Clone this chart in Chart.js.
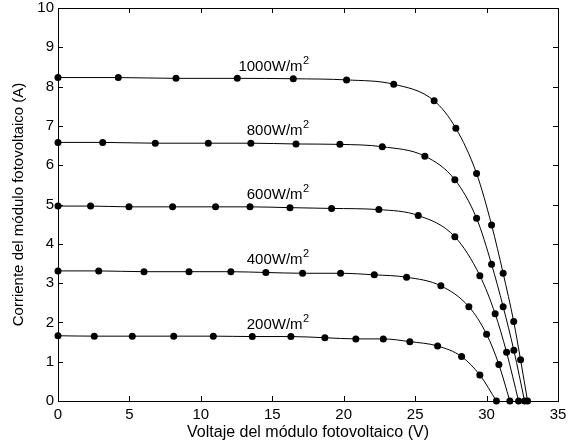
<!DOCTYPE html>
<html>
<head>
<meta charset="utf-8">
<script src="https://cdn.jsdelivr.net/npm/chart.js@4/dist/chart.umd.min.js"></script>
<style>
  html, body { margin: 0; padding: 0; background: #fff; }
  #wrap { width: 575px; height: 446px; }
</style>
</head>
<body>
<div id="wrap"><canvas id="chart" width="575" height="446"></canvas></div>
<script>
// irradiance levels and I-V points (V, A)
const irradiances = ['1000', '800', '600', '400', '200'];

const v1000 = [0, 4.22, 8.26, 12.55, 16.47, 20.2, 23.5, 26.33, 27.85, 29.3, 30.35, 31.16, 31.9, 32.38, 32.87];
const i1000 = [8.23, 8.23, 8.21, 8.21, 8.20, 8.17, 8.06, 7.64, 6.94, 5.79, 4.48, 3.25, 2.02, 1.05, 0];

const v800 = [0, 3.13, 6.81, 10.52, 13.5, 16.66, 19.73, 22.7, 25.68, 27.78, 29.3, 30.35, 31.16, 31.91, 32.66];
const i800 = [6.58, 6.58, 6.56, 6.56, 6.56, 6.54, 6.53, 6.47, 6.23, 5.63, 4.65, 3.48, 2.40, 1.29, 0];

const v600 = [0, 2.28, 4.97, 8.02, 11.03, 13.44, 16.24, 19.15, 22.46, 25.22, 27.78, 29.53, 30.6, 31.4, 32.24];
const i600 = [4.96, 4.96, 4.94, 4.94, 4.94, 4.94, 4.92, 4.90, 4.87, 4.72, 4.18, 3.19, 2.22, 1.24, 0];

const v400 = [0, 2.85, 6.02, 9.17, 12.1, 14.55, 17.12, 19.78, 22.14, 24.4, 26.8, 28.76, 30.0, 30.86, 31.63];
const i400 = [3.31, 3.31, 3.29, 3.29, 3.29, 3.27, 3.25, 3.25, 3.21, 3.15, 2.93, 2.40, 1.70, 0.93, 0];

const v200 = [0, 2.54, 5.2, 8.1, 10.87, 13.6, 16.3, 18.68, 20.85, 22.77, 24.63, 26.57, 28.25, 29.53, 30.69];
const i200 = [1.66, 1.65, 1.65, 1.65, 1.65, 1.64, 1.64, 1.61, 1.58, 1.58, 1.51, 1.40, 1.13, 0.66, 0];

const xTicks = [0, 5, 10, 15, 20, 25, 30, 35];
const yTicks = [0, 1, 2, 3, 4, 5, 6, 7, 8, 9, 10];

const voltages = [v1000, v800, v600, v400, v200];
const currents = [i1000, i800, i600, i400, i200];

const FONT = "'Liberation Sans', Arial, sans-serif";
Chart.defaults.font.family = FONT;
Chart.defaults.font.size = 15;
Chart.defaults.color = '#000';

// MATLAB-like box with ticks pointing inwards + curve labels
const boxPlugin = {
    id: 'boxPlugin',
    afterDraw(chart) {
        const ctx = chart.ctx;
        const a = chart.chartArea;
        const xs = chart.scales.x, ys = chart.scales.y;
        ctx.save();
        ctx.strokeStyle = '#000';
        ctx.lineWidth = 1;
        ctx.strokeRect(Math.round(a.left) + 0.5, Math.round(a.top) + 0.5,
            Math.round(a.right - a.left), Math.round(a.bottom - a.top));
        ctx.beginPath();
        const len = 5;
        xTicks.forEach(v => {
            const px = Math.round(xs.getPixelForValue(v)) + 0.5;
            ctx.moveTo(px, a.bottom); ctx.lineTo(px, a.bottom - len);
            ctx.moveTo(px, a.top); ctx.lineTo(px, a.top + len);
        });
        yTicks.forEach(v => {
            const py = Math.round(ys.getPixelForValue(v)) + 0.5;
            ctx.moveTo(a.left, py); ctx.lineTo(a.left + len, py);
            ctx.moveTo(a.right, py); ctx.lineTo(a.right - len, py);
        });
        ctx.stroke();

        // labels, right edge near V = 17.55, just above each plateau
        ctx.fillStyle = '#000';
        ctx.textBaseline = 'alphabetic';
        ctx.textAlign = 'left';
        const xr = xs.getPixelForValue(17.55);
        irradiances.forEach((g, k) => {
            const main = g + 'W/m';
            ctx.font = '15px ' + FONT;
            const w1 = ctx.measureText(main).width;
            ctx.font = '11px ' + FONT;
            const w2 = ctx.measureText('2').width;
            const base = ys.getPixelForValue(currents[k][0]) - 7;
            ctx.font = '15px ' + FONT;
            ctx.fillText(main, xr - w2 - w1, base);
            ctx.font = '11px ' + FONT;
            ctx.fillText('2', xr - w2 + 0.5, base - 7);
        });
        ctx.restore();
    }
};

const datasets = irradiances.map((g, k) => ({
    label: g + 'W/m2',
    data: voltages[k].map((v, j) => ({ x: v, y: currents[k][j] })),
    showLine: true,
    borderColor: '#000',
    borderWidth: 1,
    backgroundColor: '#000',
    pointBackgroundColor: '#000',
    pointBorderColor: '#000',
    pointRadius: 3.5,
    pointBorderWidth: 0,
    cubicInterpolationMode: 'monotone',
    clip: false
}));

new Chart(document.getElementById('chart'), {
    type: 'scatter',
    data: { datasets },
    options: {
        responsive: false,
        animation: false,
        layout: { padding: { top: 8, right: 17, left: 0, bottom: 0 } },
        plugins: { legend: { display: false }, tooltip: { enabled: false } },
        scales: {
            x: {
                type: 'linear',
                min: 0, max: 35,
                afterFit: s => { s.height = 45; s.paddingLeft = 0; s.paddingRight = 0; },
                afterBuildTicks: s => { s.ticks = xTicks.map(v => ({ value: v })); },
                grid: { display: false, drawTicks: false },
                border: { display: false },
                ticks: { padding: 5, maxRotation: 0, color: '#000', font: { size: 15 } },
                title: {
                    display: true,
                    text: 'Voltaje del módulo fotovoltaico (V)',
                    color: '#000',
                    font: { size: 16 },
                    padding: { top: 0, bottom: 4 }
                }
            },
            y: {
                type: 'linear',
                min: 0, max: 10,
                afterFit: s => { s.width = 58; s.paddingTop = 0; s.paddingBottom = 0; },
                afterBuildTicks: s => { s.ticks = yTicks.map(v => ({ value: v })); },
                grid: { display: false, drawTicks: false },
                border: { display: false },
                ticks: { padding: 4, color: '#000', font: { size: 15 } },
                title: {
                    display: true,
                    text: 'Corriente del módulo fotovoltaico (A)',
                    color: '#000',
                    font: { size: 15 },
                    padding: { top: 10, bottom: 0 }
                }
            }
        }
    },
    plugins: [boxPlugin]
});
</script>
</body>
</html>
